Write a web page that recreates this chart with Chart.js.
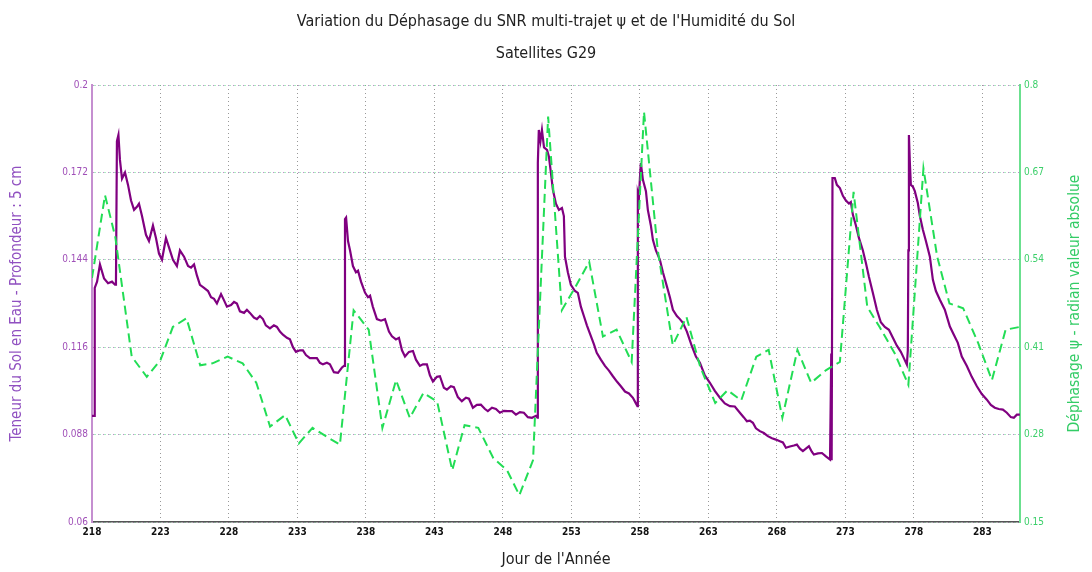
<!DOCTYPE html>
<html>
<head>
<meta charset="UTF-8">
<title>Déphasage SNR et Humidité du Sol - G29</title>
<script src="https://cdn.jsdelivr.net/npm/chart.js"></script>
<style>
    body { margin: 0; background: #fff; }
    .wrap { width: 1092px; height: 572px; position: relative; }
</style>
</head>
<body>
<div class="wrap"><canvas id="chart"></canvas></div>
<script>
// humidité du sol (m3/m3)
const soilDays = [218.0, 218.2, 218.2, 218.37, 218.58, 218.88, 219.17, 219.46, 219.68, 219.75, 219.82, 219.93, 220.04, 220.19, 220.41, 220.63, 220.85, 221.07, 221.28, 221.43, 221.65, 221.94, 222.16, 222.45, 222.67, 222.89, 223.11, 223.4, 223.62, 223.91, 224.2, 224.42, 224.72, 225.01, 225.23, 225.45, 225.66, 225.88, 226.18, 226.47, 226.69, 226.91, 227.12, 227.42, 227.64, 227.85, 228.15, 228.37, 228.58, 228.8, 229.1, 229.31, 229.53, 229.82, 230.04, 230.26, 230.48, 230.69, 230.99, 231.28, 231.5, 231.72, 231.94, 232.23, 232.45, 232.67, 232.89, 233.18, 233.4, 233.62, 233.91, 234.2, 234.42, 234.64, 234.86, 235.15, 235.37, 235.66, 235.96, 236.25, 236.4, 236.47, 236.55, 236.69, 236.84, 237.05, 237.27, 237.42, 237.64, 237.93, 238.15, 238.3, 238.5, 238.8, 239.1, 239.39, 239.68, 239.9, 240.19, 240.41, 240.63, 240.85, 241.14, 241.43, 241.65, 241.94, 242.16, 242.45, 242.67, 242.89, 243.18, 243.4, 243.69, 243.91, 244.2, 244.42, 244.71, 245.0, 245.3, 245.52, 245.81, 246.1, 246.39, 246.69, 246.9, 247.2, 247.49, 247.78, 248.07, 248.36, 248.66, 248.95, 249.24, 249.53, 249.82, 250.12, 250.41, 250.52, 250.55, 250.62, 250.74, 250.85, 251.0, 251.22, 251.36, 251.5, 251.65, 251.87, 252.09, 252.31, 252.45, 252.53, 252.74, 252.96, 253.26, 253.47, 253.69, 253.91, 254.13, 254.34, 254.64, 254.85, 255.15, 255.45, 255.74, 256.03, 256.32, 256.61, 256.91, 257.2, 257.49, 257.71, 257.82, 257.85, 257.93, 258.0, 258.07, 258.22, 258.44, 258.58, 258.8, 258.95, 259.17, 259.46, 259.68, 259.97, 260.19, 260.41, 260.7, 260.92, 261.14, 261.43, 261.8, 262.09, 262.38, 262.74, 263.11, 263.47, 263.84, 264.2, 264.57, 264.93, 265.3, 265.59, 265.81, 266.03, 266.25, 266.47, 266.76, 267.05, 267.34, 267.64, 267.93, 268.22, 268.44, 268.66, 268.95, 269.24, 269.46, 269.68, 269.9, 270.12, 270.34, 270.55, 270.7, 271.0, 271.29, 271.58, 271.88, 271.95, 271.97, 272.0, 272.06, 272.23, 272.38, 272.6, 272.82, 273.04, 273.26, 273.4, 273.55, 273.77, 273.99, 274.28, 274.5, 274.72, 275.01, 275.3, 275.59, 275.88, 276.18, 276.47, 276.76, 277.05, 277.27, 277.49, 277.56, 277.6, 277.64, 277.71, 277.78, 277.93, 278.07, 278.29, 278.44, 278.66, 278.88, 279.17, 279.39, 279.61, 279.9, 280.26, 280.63, 280.92, 281.21, 281.5, 281.87, 282.23, 282.6, 282.96, 283.33, 283.62, 283.91, 284.2, 284.5, 284.79, 285.08, 285.3, 285.52, 285.74];
const soilValues = [0.094, 0.094, 0.135, 0.137, 0.1425, 0.138, 0.1365, 0.137, 0.136, 0.137, 0.182, 0.184, 0.176, 0.170, 0.172, 0.168, 0.163, 0.160, 0.161, 0.162, 0.158, 0.152, 0.150, 0.155, 0.151, 0.146, 0.144, 0.151, 0.148, 0.144, 0.142, 0.147, 0.145, 0.142, 0.1415, 0.1425, 0.139, 0.136, 0.135, 0.134, 0.132, 0.1315, 0.130, 0.133, 0.131, 0.129, 0.1295, 0.1305, 0.130, 0.1275, 0.127, 0.128, 0.127, 0.1255, 0.125, 0.126, 0.125, 0.123, 0.122, 0.123, 0.1225, 0.121, 0.120, 0.119, 0.1185, 0.116, 0.1145, 0.115, 0.115, 0.1135, 0.1125, 0.1125, 0.1125, 0.111, 0.1105, 0.111, 0.1105, 0.108, 0.1078, 0.1095, 0.110, 0.157, 0.1575, 0.150, 0.147, 0.142, 0.140, 0.1405, 0.137, 0.1335, 0.132, 0.1325, 0.129, 0.125, 0.1245, 0.125, 0.121, 0.1195, 0.1185, 0.119, 0.115, 0.113, 0.1145, 0.1148, 0.112, 0.110, 0.1105, 0.1105, 0.107, 0.105, 0.1065, 0.1067, 0.103, 0.1024, 0.1035, 0.1032, 0.100, 0.0987, 0.0998, 0.0995, 0.0966, 0.0975, 0.0976, 0.0962, 0.0955, 0.0966, 0.0962, 0.095, 0.0956, 0.0955, 0.0955, 0.0944, 0.0952, 0.095, 0.0936, 0.0934, 0.094, 0.0934, 0.175, 0.1856, 0.182, 0.1856, 0.180, 0.1792, 0.177, 0.172, 0.1664, 0.162, 0.160, 0.1606, 0.158, 0.145, 0.140, 0.136, 0.134, 0.1334, 0.129, 0.126, 0.123, 0.1205, 0.117, 0.1142, 0.112, 0.110, 0.1085, 0.1067, 0.105, 0.1035, 0.1018, 0.1012, 0.0998, 0.098, 0.0971, 0.1654, 0.164, 0.170, 0.175, 0.1696, 0.166, 0.160, 0.155, 0.1504, 0.147, 0.144, 0.140, 0.1355, 0.132, 0.128, 0.126, 0.125, 0.1238, 0.121, 0.1163, 0.113, 0.111, 0.107, 0.1046, 0.102, 0.0998, 0.098, 0.0971, 0.097, 0.095, 0.0935, 0.0923, 0.0925, 0.0918, 0.090, 0.0891, 0.0885, 0.0875, 0.0868, 0.0864, 0.0859, 0.0855, 0.0838, 0.0842, 0.0845, 0.0848, 0.0835, 0.0827, 0.0835, 0.0843, 0.0825, 0.0816, 0.082, 0.0821, 0.081, 0.080, 0.080, 0.114, 0.0798, 0.1702, 0.1702, 0.168, 0.167, 0.1645, 0.163, 0.162, 0.1625, 0.1584, 0.155, 0.151, 0.147, 0.143, 0.1386, 0.1334, 0.128, 0.124, 0.1225, 0.1216, 0.119, 0.1165, 0.1145, 0.1125, 0.1104, 0.115, 0.147, 0.184, 0.175, 0.168, 0.1674, 0.166, 0.1622, 0.158, 0.1536, 0.150, 0.145, 0.1376, 0.134, 0.1312, 0.128, 0.1226, 0.120, 0.1174, 0.113, 0.110, 0.1065, 0.1035, 0.101, 0.0992, 0.0975, 0.0966, 0.0962, 0.096, 0.095, 0.0936, 0.0934, 0.0944, 0.0944];

// déphasage psi (rad, valeur absolue)
const phaseDays = [218.0, 218.95, 219.7, 220.9, 222.0, 223.0, 223.9, 224.9, 225.9, 226.8, 227.9, 229.0, 230.0, 231.0, 232.1, 233.1, 234.1, 235.2, 236.1, 237.1, 238.2, 239.2, 240.2, 241.2, 242.2, 243.2, 244.3, 245.2, 246.2, 247.3, 248.3, 249.2, 250.2, 251.3, 252.3, 253.3, 254.3, 255.3, 256.3, 257.4, 258.3, 259.3, 260.4, 261.4, 262.4, 263.5, 264.4, 265.4, 266.5, 267.4, 268.4, 269.5, 270.5, 271.6, 272.6, 273.6, 274.6, 275.5, 276.6, 277.6, 278.7, 279.7, 280.6, 281.6, 282.7, 283.7, 284.7, 285.7];
const phaseValues = [0.513, 0.636, 0.574, 0.396, 0.366, 0.391, 0.44, 0.453, 0.383, 0.386, 0.396, 0.386, 0.357, 0.292, 0.309, 0.267, 0.290, 0.276, 0.265, 0.465, 0.436, 0.290, 0.361, 0.305, 0.342, 0.329, 0.227, 0.294, 0.290, 0.245, 0.227, 0.190, 0.242, 0.753, 0.465, 0.500, 0.537, 0.426, 0.436, 0.388, 0.760, 0.555, 0.413, 0.455, 0.381, 0.327, 0.346, 0.331, 0.396, 0.406, 0.305, 0.406, 0.357, 0.376, 0.388, 0.641, 0.470, 0.440, 0.401, 0.354, 0.676, 0.545, 0.475, 0.468, 0.416, 0.361, 0.436, 0.440];

const dayTicks = [218, 223, 228, 233, 238, 243, 248, 253, 258, 263, 268, 273, 278, 283];
const soilTicks = [0.06, 0.088, 0.116, 0.144, 0.172, 0.2];
const phaseTicks = [0.15, 0.28, 0.41, 0.54, 0.67, 0.8];

const narrow = "'Liberation Sans Narrow', 'DejaVu Sans Condensed', sans-serif";
const rightTitle = 'Déphasage \u03C8 - radian valeur absolue';

// titre de l'axe droit, lu de bas en haut comme celui de gauche
const rightTitlePlugin = {
    id: 'rightTitle',
    afterDraw(chart) {
        const ctx = chart.ctx;
        const area = chart.chartArea;
        ctx.save();
        ctx.translate(1075, (area.top + area.bottom) / 2);
        ctx.rotate(-Math.PI / 2);
        ctx.font = '15.5px ' + narrow;
        ctx.fillStyle = '#33cc66';
        ctx.textAlign = 'center';
        ctx.textBaseline = 'middle';
        ctx.fillText(rightTitle, 0, 0);
        ctx.restore();
    }
};

new Chart(document.getElementById('chart'), {
    type: 'line',
    data: {
        datasets: [{
            label: 'Humidité du sol',
            data: soilDays.map((d, i) => ({x: d, y: soilValues[i]})),
            yAxisID: 'ySoil',
            borderColor: '#800080',
            borderWidth: 2.2,
            pointRadius: 0,
            order: 1
        }, {
            label: 'Déphasage psi',
            data: phaseDays.map((d, i) => ({x: d, y: phaseValues[i]})),
            yAxisID: 'yPhase',
            borderColor: '#22dd55',
            borderWidth: 2,
            borderDash: [9, 5],
            pointRadius: 0,
            order: 0
        }]
    },
    options: {
        responsive: true,
        maintainAspectRatio: false,
        animation: false,
        layout: { padding: 0 },
        plugins: {
            legend: { display: false },
            tooltip: { enabled: false },
            title: {
                display: true,
                text: ['Variation du Déphasage du SNR multi-trajet \u03C8 et de l\'Humidité du Sol', 'Satellites G29'],
                color: '#222',
                font: { family: narrow, size: 16, weight: 'normal', lineHeight: 2 },
                padding: { top: 6, bottom: 15 }
            }
        },
        scales: {
            x: {
                type: 'linear',
                min: 218,
                max: 285.75,
                afterBuildTicks: s => { s.ticks = dayTicks.map(v => ({value: v})); },
                afterFit: s => { s.height = 50; },
                ticks: { color: '#111', font: { family: narrow, size: 10, weight: 'bold' }, padding: 4, maxRotation: 0, autoSkip: false },
                grid: { color: '#999', drawTicks: false },
                border: { color: '#555', width: 1.5, dash: [1, 3] },
                title: { display: true, text: 'Jour de l\'Année', color: '#222', font: { family: narrow, size: 16 }, padding: { top: 0, bottom: 3 } }
            },
            ySoil: {
                position: 'left',
                min: 0.06,
                max: 0.2,
                afterBuildTicks: s => { s.ticks = soilTicks.map(v => ({value: v})); },
                afterFit: s => { s.width = 92; },
                ticks: { color: '#a050b8', font: { family: narrow, size: 10 }, padding: 4, callback: v => +v.toFixed(3) },
                grid: { color: '#c090cc', drawTicks: false },
                border: { color: '#c58fd0', width: 2, dash: [1, 4] },
                title: { display: true, text: 'Teneur du Sol en Eau - Profondeur : 5 cm', color: '#9050c0', font: { family: narrow, size: 15 }, padding: { top: 8 } }
            },
            yPhase: {
                position: 'right',
                min: 0.15,
                max: 0.8,
                afterBuildTicks: s => { s.ticks = phaseTicks.map(v => ({value: v})); },
                afterFit: s => { s.width = 72; },
                ticks: { color: '#3ccf6a', font: { family: narrow, size: 10 }, padding: 4, callback: v => +v.toFixed(2) },
                grid: { color: '#5fd686', drawTicks: false },
                border: { color: '#6be08f', width: 2, dash: [1, 4], dashOffset: 2.5 }
            }
        }
    },
    plugins: [rightTitlePlugin]
});
</script>
</body>
</html>
